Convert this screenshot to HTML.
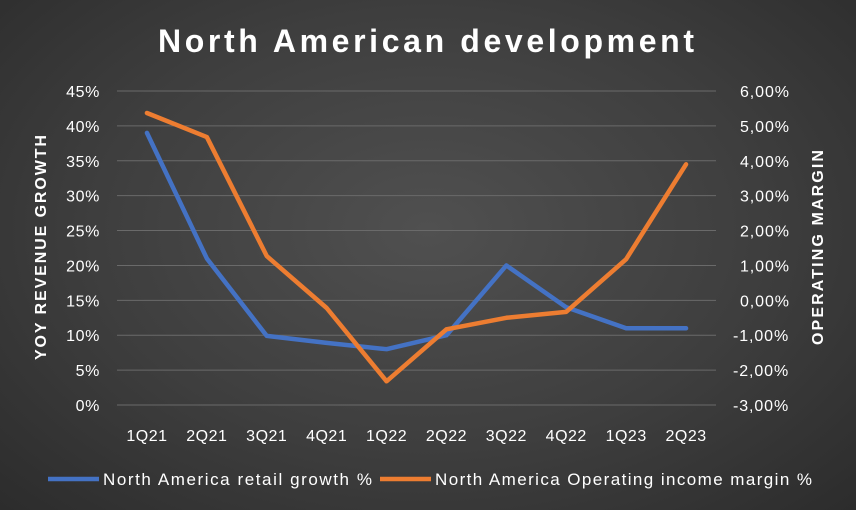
<!DOCTYPE html>
<html><head><meta charset="utf-8"><style>
html,body{margin:0;padding:0;width:856px;height:510px;overflow:hidden}
body{background:radial-gradient(ellipse at 50% 45%,#505050 0%,#3e3e3e 55%,#2c2c2c 100%);font-family:"Liberation Sans",sans-serif}
</style></head><body>
<svg id="chart" width="856" height="510" xmlns="http://www.w3.org/2000/svg"></svg>
<script>
const categories=["1Q21","2Q21","3Q21","4Q21","1Q22","2Q22","3Q22","4Q22","1Q23","2Q23"];
const retailGrowth=[39,21,9.9,8.9,8,10,20,14,11,11];
const opMargin=[5.37,4.68,1.27,-0.22,-2.32,-0.83,-0.5,-0.33,1.18,3.9];
const leftTicks=[0,5,10,15,20,25,30,35,40,45];
const rightTicks=[-3,-2,-1,0,1,2,3,4,5,6];
const NS="http://www.w3.org/2000/svg";
const svg=document.getElementById('chart');
const x0=117,x1=716,yTop=91,yBot=405;
const xs=i=>x0+(x1-x0)/categories.length*(i+0.5);
const yL=v=>yBot-(v-0)/45*(yBot-yTop);
const yR=v=>yBot-(v+3)/9*(yBot-yTop);
function mk(t,a,txt){const e=document.createElementNS(NS,t);for(const k in a)e.setAttribute(k,a[k]);if(txt!==undefined)e.textContent=txt;svg.appendChild(e);return e;}
const title=mk('text',{x:158,y:52,fill:'#fff','font-size':32,'font-weight':'bold',textLength:536,lengthAdjust:'spacing'},'North American development');


leftTicks.forEach(v=>{
  const g=mk('line',{x1:x0,x2:x1,y1:yL(v),y2:yL(v),stroke:'#6a6a6a','stroke-width':1});
  
  
  const t=mk('text',{x:100,y:yL(v)+6,'text-anchor':'end',fill:'#fff','font-size':16,'letter-spacing':'0.6'},v+'%');
  
  
});
rightTicks.forEach(v=>{
  const s=(v<0?'-':'')+Math.abs(v).toFixed(2).replace('.',',')+'%';
  const t=mk('text',{x:v<0?733:740,y:yR(v)+6,fill:'#fff','font-size':16,'letter-spacing':'0.9'},s);
  
  
});
categories.forEach((c,i)=>{
  const t=mk('text',{x:xs(i),y:441,'text-anchor':'middle',fill:'#fff','font-size':16,'letter-spacing':'0.5'},c);
  
  
});
const yl=mk('text',{x:0,y:0,transform:'translate(46,360) rotate(-90)',fill:'#fff','font-size':16,'font-weight':'bold',textLength:225,lengthAdjust:'spacing'},'YOY REVENUE GROWTH');


const yr=mk('text',{x:0,y:0,transform:'translate(823,345) rotate(-90)',fill:'#fff','font-size':16,'font-weight':'bold',textLength:195,lengthAdjust:'spacing'},'OPERATING MARGIN');


const pb=mk('polyline',{points:retailGrowth.map((v,i)=>xs(i)+','+yL(v)).join(' '),fill:'none',stroke:'#4472c4','stroke-width':4.5,'stroke-linejoin':'round','stroke-linecap':'round'});


const po=mk('polyline',{points:opMargin.map((v,i)=>xs(i)+','+yR(v)).join(' '),fill:'none',stroke:'#ed7d31','stroke-width':4.5,'stroke-linejoin':'round','stroke-linecap':'round'});


const l1=mk('line',{x1:48,x2:99,y1:479,y2:479,stroke:'#4472c4','stroke-width':4.5});


const t1=mk('text',{x:103,y:485,fill:'#fff','font-size':17,textLength:269,lengthAdjust:'spacing'},'North America retail growth %');


const l2=mk('line',{x1:380,x2:431,y1:479,y2:479,stroke:'#ed7d31','stroke-width':4.5});


const t2=mk('text',{x:435,y:485,fill:'#fff','font-size':17,textLength:377,lengthAdjust:'spacing'},'North America Operating income margin %');


</script>
</body></html>
